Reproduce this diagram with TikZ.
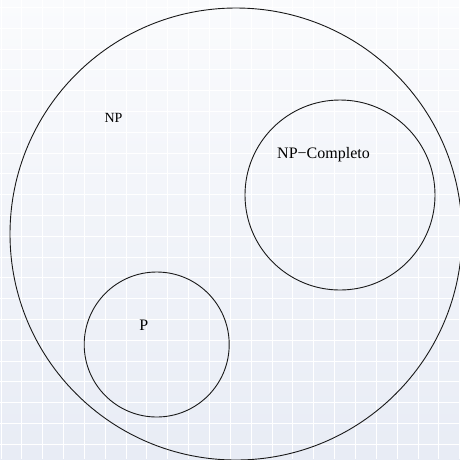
\documentclass[tikz,border=0pt]{standalone}
\usepackage{fontspec}
\setmainfont{Liberation Serif}
\definecolor{bgtop}{HTML}{FAFBFD}
\definecolor{bgbot}{HTML}{E8ECF5}
\begin{document}
\begin{tikzpicture}[x=1pt,y=-1pt,
  setcircle/.style={draw=black!90, line width=0.9pt, circle, inner sep=0pt},
  settext/.style={inner sep=0pt, font=\fontsize{16}{18}\selectfont}]
\useasboundingbox (0,0) rectangle (460,459);
\shade[top color=bgtop, bottom color=bgbot] (0,0) rectangle (460,459);
\foreach \i in {0,...,22} {
  \draw[white, line width=1pt] (1+20.85*\i,0) -- (1+20.85*\i,459);
  \draw[white, line width=1pt] (0,7.5+20.8*\i) -- (460,7.5+20.8*\i);
}
\node[setcircle, minimum size=452pt] (np) at (236,234) {};
\node[setcircle, minimum size=190pt] (npc) at (340,195) {};
\node[setcircle, minimum size=145pt] (p) at (156.7,344.5) {};
\node[settext, font=\fontsize{14}{16}\selectfont] (nplabel) at (113.5,117.5) {NP};
\node[settext] (npclabel) at (323.5,155) {NP\textminus Completo};
\node[settext] (plabel) at (143.8,325) {P};
\end{tikzpicture}
\end{document}
